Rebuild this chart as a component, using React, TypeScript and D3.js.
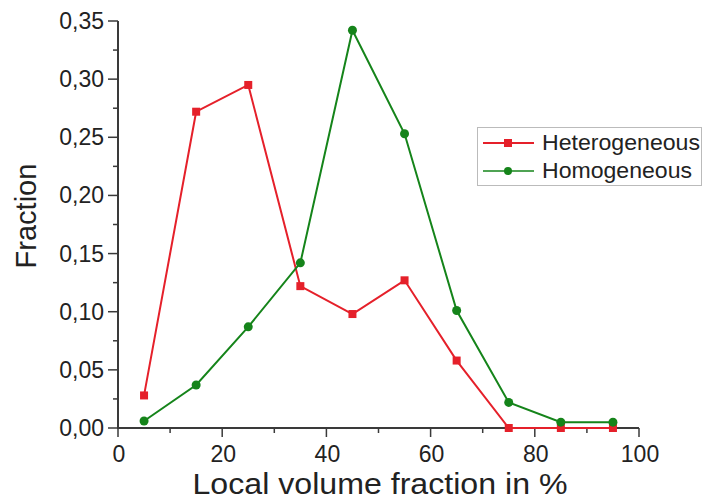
import React from "react";
import * as d3 from "d3";

const xValues = [5, 15, 25, 35, 45, 55, 65, 75, 85, 95];
const heterogeneous = [0.028, 0.272, 0.295, 0.122, 0.098, 0.127, 0.058, 0.0, 0.0, 0.0];
const homogeneous = [0.006, 0.037, 0.087, 0.142, 0.342, 0.253, 0.101, 0.022, 0.005, 0.005];
const xTicks = [0, 20, 40, 60, 80, 100];
const xMinor = [10, 30, 50, 70, 90];
const yTicks = [0, 0.05, 0.1, 0.15, 0.2, 0.25, 0.3, 0.35];
const yMinor = [0.025, 0.075, 0.125, 0.175, 0.225, 0.275, 0.325];
const seriesNames = ["Heterogeneous", "Homogeneous"];

const W = 703;
const H = 499;
const RED = "#e5202a";
const GREEN = "#15841a";
const AXIS = "#3a3a3a";
const TEXT = "#222";
const FONT = "'Liberation Sans', Arial, sans-serif";

export default function App() {
  const x = d3.scaleLinear().domain([0, 100]).range([118, 639]);
  const y = d3.scaleLinear().domain([0, 0.35]).range([428, 21]);
  const fmt = (v: number) => d3.format(".2f")(v).replace(".", ",");
  const line = d3
    .line<[number, number]>()
    .x((d) => x(d[0]))
    .y((d) => y(d[1]));
  const hetPts: [number, number][] = xValues.map((v, i) => [v, heterogeneous[i]]);
  const homPts: [number, number][] = xValues.map((v, i) => [v, homogeneous[i]]);

  return (
    <svg
      width={W}
      height={H}
      style={{ position: "absolute", left: 0, top: 0, background: "#fff" }}
      fontFamily={FONT}
    >
      <rect x={0} y={0} width={W} height={H} fill="#fff" />
      {/* axes */}
      <line x1={x(0)} x2={x(100)} y1={y(0)} y2={y(0)} stroke={AXIS} strokeWidth={2} />
      <line x1={x(0)} x2={x(0)} y1={y(0) + 1} y2={y(0.35)} stroke={AXIS} strokeWidth={2} />
      {xTicks.map((t) => (
        <g key={"xt" + t}>
          <line x1={x(t)} x2={x(t)} y1={y(0)} y2={y(0) + 9} stroke={AXIS} strokeWidth={1.5} />
          <text x={x(t) + 1} y={462} textAnchor="middle" fontSize={23} fill={TEXT}>
            {t}
          </text>
        </g>
      ))}
      {xMinor.map((t) => (
        <line key={"xm" + t} x1={x(t)} x2={x(t)} y1={y(0)} y2={y(0) + 5} stroke={AXIS} strokeWidth={1.5} />
      ))}
      {yTicks.map((t) => (
        <g key={"yt" + t}>
          <line x1={x(0) - 10} x2={x(0)} y1={y(t)} y2={y(t)} stroke={AXIS} strokeWidth={1.5} />
          <text
            x={104}
            y={y(t)}
            textAnchor="end"
            dominantBaseline="central"
            fontSize={23}
            fill={TEXT}
          >
            {fmt(t)}
          </text>
        </g>
      ))}
      {yMinor.map((t) => (
        <line key={"ym" + t} x1={x(0) - 5} x2={x(0)} y1={y(t)} y2={y(t)} stroke={AXIS} strokeWidth={1.5} />
      ))}
      {/* axis titles */}
      <text
        x={380}
        y={494}
        textAnchor="middle"
        fontSize={29}
        fill={TEXT}
        textLength={375}
        lengthAdjust="spacingAndGlyphs"
      >
        Local volume fraction in %
      </text>
      <text
        transform="translate(36,216) rotate(-90)"
        textAnchor="middle"
        fontSize={29}
        fill={TEXT}
      >
        Fraction
      </text>
      {/* series */}
      <path d={line(hetPts) || ""} fill="none" stroke={RED} strokeWidth={2} />
      <path d={line(homPts) || ""} fill="none" stroke={GREEN} strokeWidth={2} />
      {hetPts.map((d, i) => (
        <rect key={"h" + i} x={x(d[0]) - 4} y={y(d[1]) - 4} width={8} height={8} fill={RED} />
      ))}
      {homPts.map((d, i) => (
        <circle key={"g" + i} cx={x(d[0])} cy={y(d[1])} r={4.5} fill={GREEN} />
      ))}
      {/* legend */}
      <rect x={477.5} y={127.5} width={224} height={58} fill="#fff" stroke="#bbb" strokeWidth={1} />
      <line x1={483} x2={534} y1={143} y2={143} stroke={RED} strokeWidth={2} />
      <rect x={504} y={139} width={8} height={8} fill={RED} />
      <text x={542} y={150} fontSize={22} fill={TEXT} textLength={158} lengthAdjust="spacingAndGlyphs">
        {seriesNames[0]}
      </text>
      <line x1={483} x2={534} y1={171} y2={171} stroke={GREEN} strokeWidth={1.5} />
      <circle cx={508} cy={171} r={4} fill={GREEN} />
      <text x={542} y={178} fontSize={22} fill={TEXT} textLength={150} lengthAdjust="spacingAndGlyphs">
        {seriesNames[1]}
      </text>
    </svg>
  );
}
